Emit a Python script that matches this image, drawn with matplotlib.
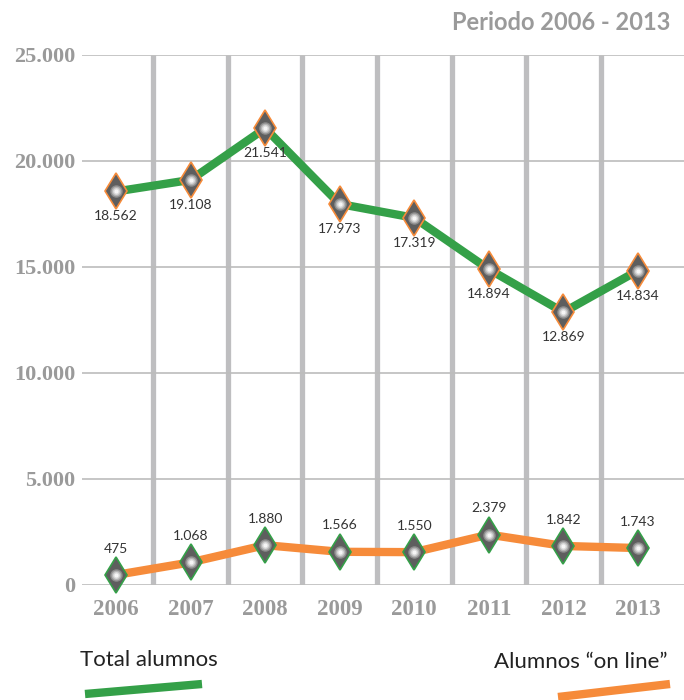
import matplotlib.pyplot as plt
from matplotlib.lines import Line2D

years = [2006, 2007, 2008, 2009, 2010, 2011, 2012, 2013]
total_alumnos = [18562, 19108, 21541, 17973, 17319, 14894, 12869, 14834]
alumnos_online = [475, 1068, 1880, 1566, 1550, 2379, 1842, 1743]
yticks = [0, 5000, 10000, 15000, 20000, 25000]

green = '#34a048'
orange = '#f68b3a'
gray_txt = '#9a9a9a'


def fmt(v):
    return f'{v:,}'.replace(',', '.')


fig = plt.figure(figsize=(6.84, 7), dpi=100)
ax = fig.add_axes([82 / 684, 115 / 700, 602 / 684, 530 / 700])
ax.set_xlim(2005.544, 2013.617)
ax.set_ylim(0, 25000)

# horizontal grid
for t in yticks:
    ax.axhline(t, color='#bcbcbc', lw=1.2, zorder=1)
# thick vertical separators between years
for y in years[:-1]:
    ax.plot([y + 0.5, y + 0.5], [0, 25000], color='#bebec0', lw=3.8, zorder=0,
            solid_capstyle='butt')

ax.plot(years, total_alumnos, color=green, lw=6, zorder=3, clip_on=False)
ax.plot(years, alumnos_online, color=orange, lw=6, zorder=3, clip_on=False)

# diamond markers, light centre stacked to mimic the radial gradient
ax.plot(years, total_alumnos, ls='none', marker='d', ms=18, mfc='#5e5e5e',
        mec=orange, mew=1.2, zorder=4, clip_on=False)
ax.plot(years, alumnos_online, ls='none', marker='d', ms=18, mfc='#5e5e5e',
        mec=green, mew=1.2, zorder=4, clip_on=False)
for ms, c in [(9, '#8c8c8c'), (7, '#b4b4b4'), (5, '#d8d8d8'), (3, '#f6f6f6')]:
    for series in (total_alumnos, alumnos_online):
        ax.plot(years, series, ls='none', marker='o', ms=ms, mfc=c,
                mec='none', zorder=5, clip_on=False)

for x, v in zip(years, total_alumnos):
    ax.annotate(fmt(v), (x, v), xytext=(0, -18), textcoords='offset points',
                ha='center', va='center', fontsize=10, color='#333333',
                family='Lato')
for x, v in zip(years, alumnos_online):
    ax.annotate(fmt(v), (x, v), xytext=(0, 19), textcoords='offset points',
                ha='center', va='center', fontsize=10, color='#333333',
                family='Lato')

ax.set_yticks(yticks)
ax.set_yticklabels([fmt(t) for t in yticks], family='Liberation Serif',
                   fontweight='bold', fontsize=16, color=gray_txt)
ax.set_xticks(years)
ax.set_xticklabels([str(y) for y in years], family='Liberation Serif',
                   fontweight='bold', fontsize=16.5, color=gray_txt)
ax.tick_params(axis='y', length=0, pad=5)
ax.tick_params(axis='x', length=0, pad=10)
for s in ax.spines.values():
    s.set_visible(False)

fig.text(670 / 684, 1 - 22 / 700, 'Periodo 2006 - 2013', ha='right', va='center',
         fontsize=17, fontweight='bold', color=gray_txt, family='Lato')

# legend
fig.text(80 / 684, 1 - 660 / 700, 'Total alumnos', ha='left', va='center',
         fontsize=16, color='#222222', family='Lato')
fig.text(668 / 684, 1 - 662 / 700, 'Alumnos \u201con line\u201d', ha='right',
         va='center', fontsize=16, color='#222222', family='Lato')
fig.add_artist(Line2D([85 / 684, 202 / 684], [1 - 694 / 700, 1 - 684 / 700],
                      color=green, lw=6, solid_capstyle='butt'))
fig.add_artist(Line2D([558 / 684, 670 / 684], [1 - 697 / 700, 1 - 684 / 700],
                      color=orange, lw=6, solid_capstyle='butt'))

fig.savefig('out.png', dpi=100)
